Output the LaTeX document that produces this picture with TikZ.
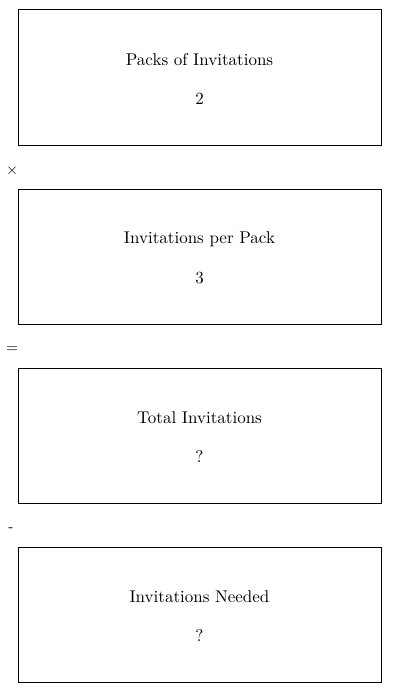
\documentclass[tikz,border=0pt]{standalone}
\begin{document}
\begin{tikzpicture}[x=0.6pt,y=-0.6pt,
  box/.style={draw,line width=0.6pt,minimum width=363*0.6pt,minimum height=135*0.6pt,inner sep=0pt},
  lbl/.style={inner sep=0pt,font=\fontsize{10.2}{12}\selectfont},
  op/.style={inner sep=0pt,font=\fontsize{9}{11}\selectfont}]
\useasboundingbox (0,0) rectangle (400,693);
\node[box] (b1) at (199.5,77.5) {};
\node[box] (b2) at (199.5,256.5) {};
\node[box] (b3) at (199.5,435.5) {};
\node[box] (b4) at (199.5,614.5) {};
\node[lbl] (t1) at (199.5,60) {Packs of Invitations};
\node[lbl] (v1) at (199.5,99) {2};
\node[lbl] (t2) at (199.5,239) {Invitations per Pack};
\node[lbl] (v2) at (199.5,278) {3};
\node[lbl] (t3) at (199.5,418) {Total Invitations};
\node[lbl] (v3) at (199.5,457) {?};
\node[lbl] (t4) at (199.5,597) {Invitations Needed};
\node[lbl] (v4) at (199.5,636) {?};
\node[op] (o1) at (12,171) {$\times$};
\node[op] (o2) at (12,350) {=};
\node[op,anchor=base] (o3) at (11,531) {-};
\end{tikzpicture}
\end{document}
